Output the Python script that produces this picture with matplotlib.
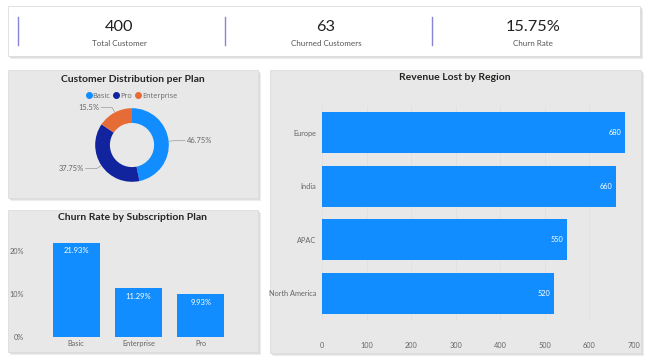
import numpy as np
import matplotlib.pyplot as plt
from matplotlib.patches import Rectangle
from matplotlib.lines import Line2D

plt.rcParams['font.family'] = ['Lato', 'DejaVu Sans']

# KPI cards
kpi_values = ['400', '63', '15.75%']
kpi_labels = ['Total Customer', 'Churned Customers', 'Churn Rate']

# Customer distribution per plan (donut)
plans = ['Basic', 'Pro', 'Enterprise']
plan_share = [46.75, 37.75, 15.5]

# Churn rate by subscription plan
churn_plans = ['Basic', 'Enterprise', 'Pro']
churn_rate = [21.93, 11.29, 9.93]

# Revenue lost by region
regions = ['Europe', 'India', 'APAC', 'North America']
revenue_lost = [680, 660, 550, 520]

BLUE = '#118DFF'
NAVY = '#12239E'
ORANGE = '#E66C37'
PANEL = '#E8E8E8'
W, H = 650, 360

fig = plt.figure(figsize=(6.5, 3.6), dpi=100)
fig.patch.set_facecolor('white')

# background layer in pixel units for the cards
bg = fig.add_axes([0, 0, 1, 1], zorder=-1)
bg.set_xlim(0, W)
bg.set_ylim(H, 0)
bg.axis('off')


def box(x0, y0, x1, y1):
    return [x0 / W, 1 - y1 / H, (x1 - x0) / W, (y1 - y0) / H]


def panel(x0, y0, x1, y1, color):
    # soft drop shadow then the card
    for i, c in enumerate(['#ececec', '#dedede', '#d2d2d2']):
        off = 3 - i
        bg.add_patch(Rectangle((x0 + off, y0 + off), x1 - x0, y1 - y0,
                               facecolor=c, edgecolor='none'))
    bg.add_patch(Rectangle((x0, y0), x1 - x0, y1 - y0, facecolor=color,
                           edgecolor='#dddddd', lw=0.6))


panel(8, 6, 640, 56, 'white')
panel(8, 70, 258, 198, PANEL)
panel(8, 210, 258, 352, PANEL)
panel(270, 70, 641, 353, PANEL)

# KPI row
for i, (v, lab) in enumerate(zip(kpi_values, kpi_labels)):
    cx = 119 + i * 207
    bg.text(cx, 27, v, ha='center', va='center', fontsize=11.8, color='#222222')
    bg.text(cx, 44, lab, ha='center', va='center', fontsize=5.8, color='#555555')
    sx = 18 + i * 207
    bg.plot([sx, sx], [17, 45], color='#8a84d6', lw=1.0)

# Donut
bg.text(133, 79, 'Customer Distribution per Plan', ha='center', va='center',
        fontsize=7.5, fontweight='bold', color='#252423')
ax1 = fig.add_axes(box(132 - 81, 145 - 81, 132 + 81, 145 + 81))
ax1.set_facecolor('none')
wedges, _ = ax1.pie(plan_share, colors=[BLUE, NAVY, ORANGE], startangle=90, counterclock=False,
                    radius=1, wedgeprops=dict(width=0.4, edgecolor='none'))
ax1.set_xlim(-2.2, 2.2)
ax1.set_ylim(-2.2, 2.2)
ax1.set_aspect('equal')
ax1.axis('off')
for w, val in zip(wedges, plan_share):
    ang = np.deg2rad((w.theta1 + w.theta2) / 2)
    x, y = np.cos(ang), np.sin(ang)
    ex, ey = 1.15 * x, 1.15 * y
    sgn = 1 if x > 0 else -1
    tx = ex + sgn * 0.3
    ax1.plot([1.02 * x, ex, tx], [1.02 * y, ey, ey], color='#999999', lw=0.5)
    ax1.text(tx + sgn * 0.05, ey, f'{val:g}%', ha='left' if sgn > 0 else 'right', va='center',
             fontsize=5.4, color='#666666')
handles = [Line2D([], [], marker='o', ls='', color=c, markersize=4) for c in [BLUE, NAVY, ORANGE]]
fig.legend(handles, plans, loc='center', bbox_to_anchor=(131 / W, 1 - 96 / H), ncol=3,
           frameon=False, handletextpad=0.0, columnspacing=0.4,
           labelcolor='#666666', handlelength=1.0,
           prop=dict(family=['Open Sans', 'DejaVu Sans'], size=5.2))

# Churn rate bars
bg.text(133, 218, 'Churn Rate by Subscription Plan', ha='center', va='center',
        fontsize=7.5, fontweight='bold', color='#252423')
ax2 = fig.add_axes(box(45, 229.5, 232, 337))
ax2.set_facecolor('none')
xs = range(len(churn_plans))
bars = ax2.bar(xs, churn_rate, width=0.75, color=BLUE, edgecolor='none')
for b, v in zip(bars, churn_rate):
    ax2.text(b.get_x() + b.get_width() / 2, v - 1.0, f'{v:.2f}%', ha='center', va='top',
             fontsize=5.5, color='white')
ax2.set_xlim(-0.5, 2.5)
ax2.set_ylim(0, 25)
ax2.set_xticks(list(xs))
ax2.set_xticklabels(churn_plans)
ax2.set_yticks([0, 10, 20])
ax2.set_yticklabels(['0%', '10%', '20%'])
ax2.tick_params(length=0, labelsize=5.3, labelcolor='#666666')
ax2.tick_params(axis='y', pad=15)
ax2.tick_params(axis='x', pad=2)
for s in ax2.spines.values():
    s.set_visible(False)

# Revenue lost by region
bg.text(455, 78, 'Revenue Lost by Region', ha='center', va='center',
        fontsize=7.5, fontweight='bold', color='#252423')
ax3 = fig.add_axes(box(322, 106, 634, 320))
ax3.set_facecolor('none')
ys = range(len(regions))
hb = ax3.barh(ys, revenue_lost, height=0.77, color=BLUE, edgecolor='none', zorder=2)
for b, v in zip(hb, revenue_lost):
    ax3.text(v - 8, b.get_y() + b.get_height() / 2, f'{v}', ha='right', va='center',
             fontsize=5.3, color='white', zorder=3)
ax3.set_ylim(len(regions) - 0.5, -0.5)
ax3.set_xlim(0, 700)
ax3.set_yticks(list(ys))
ax3.set_yticklabels(regions)
ax3.set_xticks(range(0, 701, 100))
ax3.tick_params(length=0, labelsize=5.3, labelcolor='#666666')
ax3.tick_params(axis='y', pad=4)
ax3.tick_params(axis='x', pad=16)
ax3.grid(axis='x', color='#e0e0e0', lw=0.6, zorder=0)
for s in ax3.spines.values():
    s.set_visible(False)

fig.savefig('out.png', dpi=100)
